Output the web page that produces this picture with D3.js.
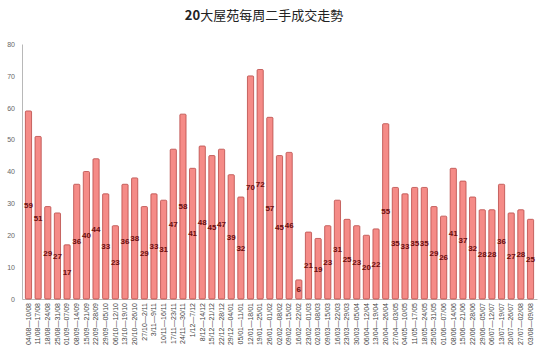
<!DOCTYPE html>
<html>
<head>
<meta charset="utf-8">
<script src="https://d3js.org/d3.v7.min.js"></script>
<style>
  body { margin: 0; background: #fff; }
  svg text { font-family: "Liberation Sans", Arial, sans-serif; }
</style>
</head>
<body>
<div id="chart"></div>
<script>
// weekly ranges
var weeks = ["04/08—10/08","11/08—17/08","18/08—24/08","25/08—31/08","01/09—07/09","08/09—14/09",
  "15/09—21/09","22/09—28/09","29/09—05/10","06/10—12/10","13/10—19/10","20/10—26/10","27/10—2/11",
  "3/11—9/11","10/11—16/11","17/11—23/11","24/11—30/11","1/12—7/12","8/12—14/12","15/12—21/12",
  "22/12—28/12","29/12—04/01","05/01—11/01","12/01—18/01","19/01—25/01","26/01—01/02","02/02—08/02",
  "09/02—15/02","16/02—22/02","23/02—01/03","02/03—08/03","09/03—15/03","16/03—22/03","23/03—29/03",
  "30/03—05/04","06/04—12/04","13/04—19/04","20/04—26/04","27/04—03/05","04/05—10/05","11/05—17/05",
  "18/05—24/05","25/05—31/05","01/06—07/06","08/06—14/06","15/06—21/06","22/06—28/06","29/06—05/07",
  "06/07—12/07","13/07—19/07","20/07—26/07","27/07—02/08","03/08—09/08"];
var deals = [59,51,29,27,17,36,40,44,33,23,36,38,29,33,31,47,58,41,48,45,47,39,32,70,72,57,45,46,
  6,21,19,23,31,25,23,20,22,55,35,33,35,35,29,26,41,37,32,28,28,36,27,28,25];
var yTicks = [0,10,20,30,40,50,60,70,80];

var W = 551, H = 354;
var margin = {top: 44, right: 14, bottom: 55, left: 22};

var svg = d3.select("#chart").append("svg")
    .attr("width", W).attr("height", H);

// title
svg.append("text")
    .attr("x", 264).attr("y", 20)
    .attr("text-anchor", "middle")
    .style("font-family", "'Noto Sans CJK TC', 'Noto Sans CJK SC', sans-serif")
    .style("font-size", "13px")
    .style("fill", "#222")
    .html('<tspan font-weight="bold">20</tspan>大屋苑每周二手成交走勢');

var x = d3.scaleBand()
    .domain(weeks)
    .range([margin.left, W - margin.right])
    .paddingInner(0.36)
    .paddingOuter(0.35);

var y = d3.scaleLinear()
    .domain([0, 80])
    .range([H - margin.bottom, margin.top]);

// y axis
var yAxis = svg.append("g")
    .attr("transform", "translate(" + margin.left + ",0)")
    .call(d3.axisLeft(y).tickValues(yTicks).tickSize(0).tickPadding(7));
yAxis.select(".domain").attr("stroke", "#b8b8b8");
yAxis.selectAll("text").style("font-size", "7px").style("fill", "#666");

// x axis
var xAxis = svg.append("g")
    .attr("transform", "translate(0," + (H - margin.bottom) + ")")
    .call(d3.axisBottom(x).tickSize(0).tickPadding(3));
xAxis.select(".domain").attr("stroke", "#b8b8b8");
xAxis.selectAll("text")
    .style("font-size", "7px")
    .style("fill", "#444")
    .attr("transform", "rotate(-90)")
    .attr("x", -4).attr("y", 0).attr("dy", "0.32em")
    .attr("text-anchor", "end");

// bars
svg.selectAll("rect.bar")
    .data(deals)
    .enter().append("rect")
    .attr("class", "bar")
    .attr("x", function(d, i) { return x(weeks[i]); })
    .attr("y", function(d) { return y(d); })
    .attr("width", x.bandwidth())
    .attr("height", function(d) { return y(0) - y(d); })
    .attr("rx", 1)
    .attr("fill", "#f58b87")
    .attr("stroke", "#b94a47")
    .attr("stroke-width", 0.8);

// value labels in the middle of each bar
svg.selectAll("text.val")
    .data(deals)
    .enter().append("text")
    .attr("class", "val")
    .attr("x", function(d, i) { return x(weeks[i]) + x.bandwidth() / 2; })
    .attr("y", function(d) { return (y(d) + y(0)) / 2; })
    .attr("dy", "0.35em")
    .attr("text-anchor", "middle")
    .style("font-size", "8px")
    .style("font-weight", "bold")
    .style("fill", "#6b0d0d")
    .text(function(d) { return d; });
</script>
</body>
</html>
